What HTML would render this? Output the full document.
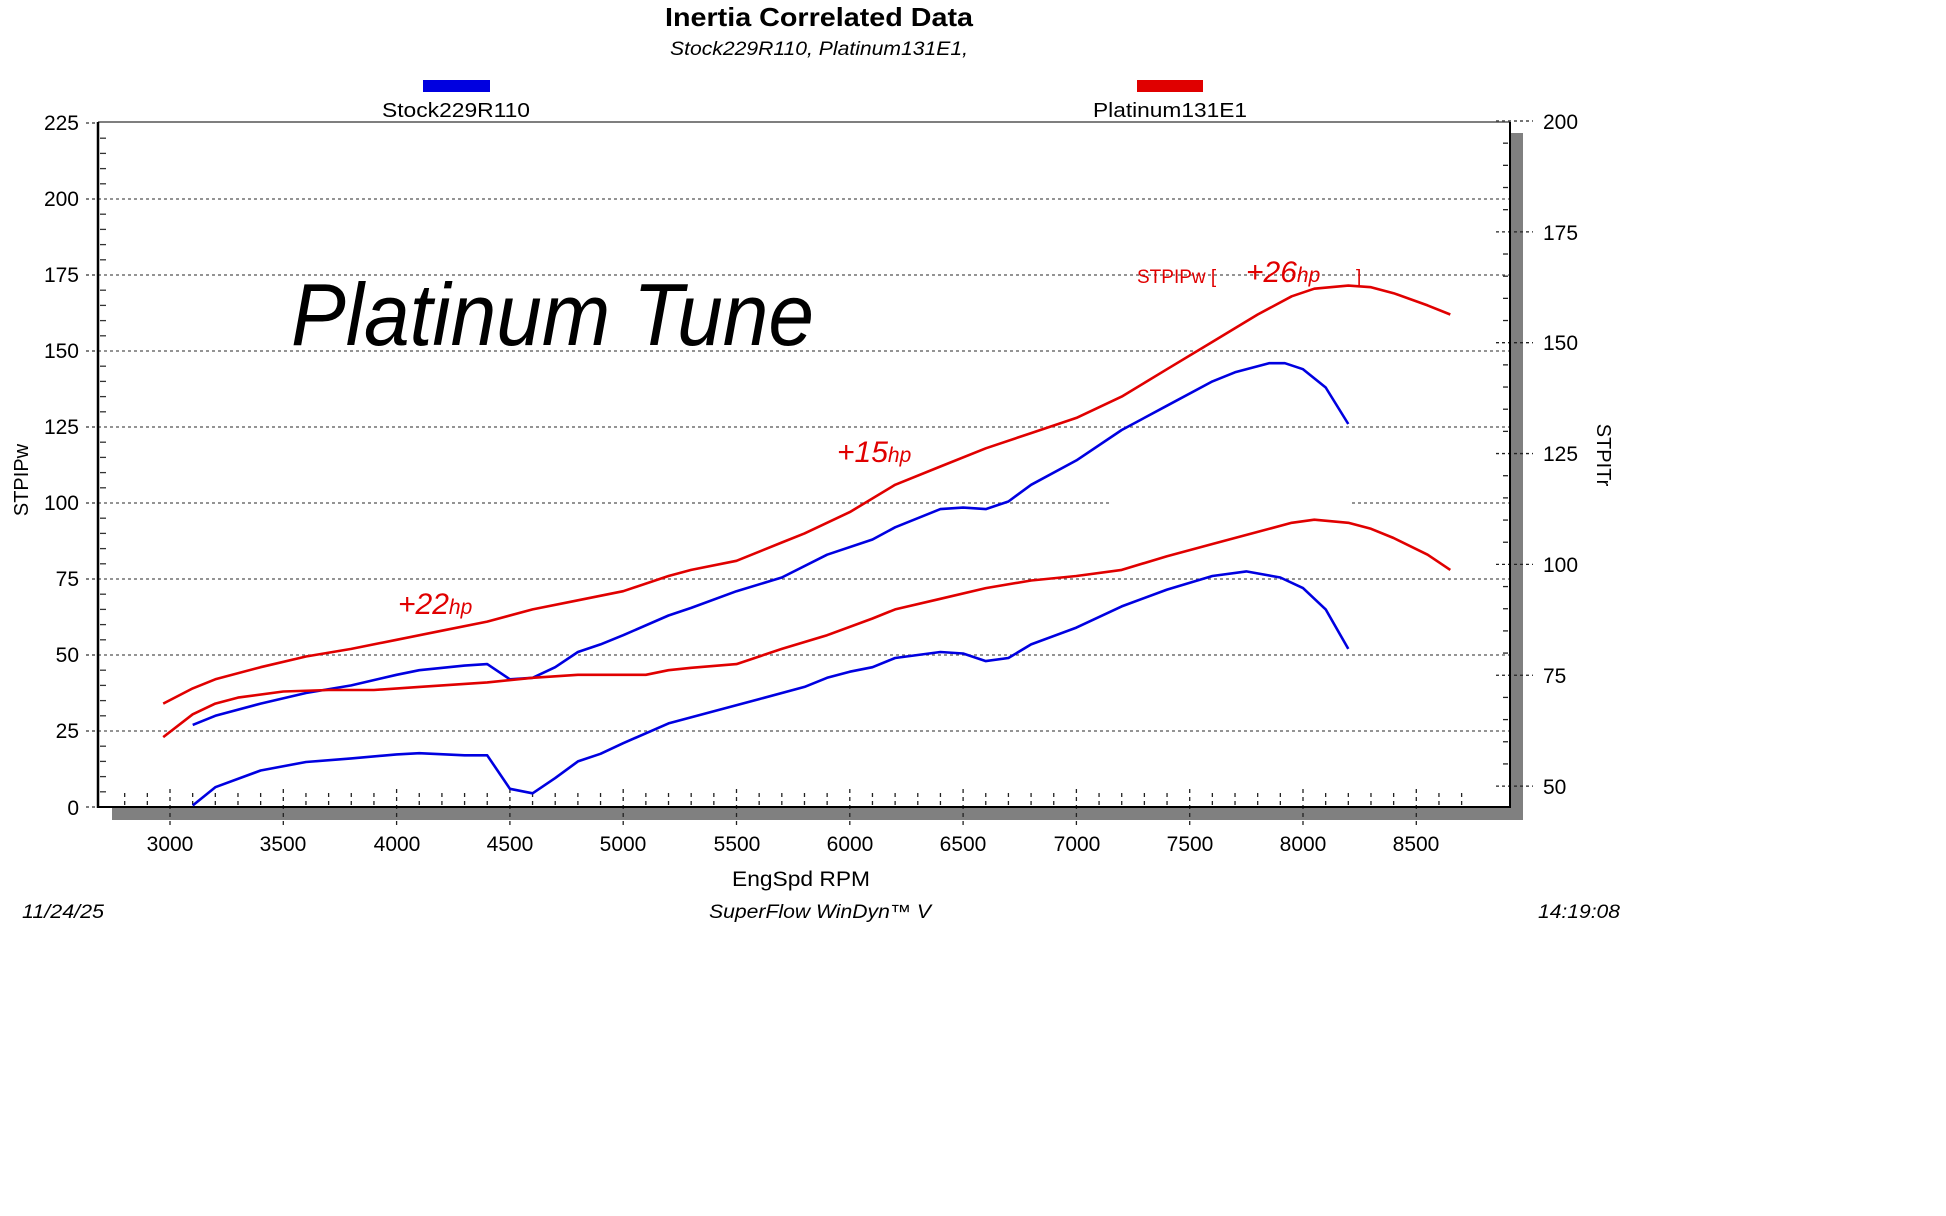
<!DOCTYPE html>
<html><head><meta charset="utf-8"><style>
html,body{margin:0;padding:0;background:#fff;}
svg{display:block;font-family:"Liberation Sans",sans-serif;}
</style></head><body>
<svg id="s" width="1946" height="1216" viewBox="0 0 1946 1216" xmlns="http://www.w3.org/2000/svg">
<rect width="1946" height="1216" fill="#fff"/>
<text x="819" y="26" text-anchor="middle" font-size="26" font-weight="bold" textLength="308" lengthAdjust="spacingAndGlyphs">Inertia Correlated Data</text>
<text x="819" y="55" text-anchor="middle" font-size="19" font-style="italic" textLength="298" lengthAdjust="spacingAndGlyphs">Stock229R110, Platinum131E1,</text>
<rect x="423" y="80" width="67" height="12" fill="#0000e0"/>
<rect x="1137" y="80" width="66" height="12" fill="#e00000"/>
<text x="456" y="117" text-anchor="middle" font-size="20" textLength="148" lengthAdjust="spacingAndGlyphs">Stock229R110</text>
<text x="1170" y="117" text-anchor="middle" font-size="20" textLength="154" lengthAdjust="spacingAndGlyphs">Platinum131E1</text>
<rect x="112" y="807" width="1411" height="13" fill="#808080"/>
<rect x="1510" y="133" width="13" height="687" fill="#808080"/>
<g id="grid"></g>
<line x1="98" y1="122" x2="1510" y2="122" stroke="#555" stroke-width="1.5"/>
<line x1="98" y1="122" x2="98" y2="808" stroke="#000" stroke-width="2.5"/>
<line x1="97" y1="807" x2="1511" y2="807" stroke="#000" stroke-width="2"/>
<line x1="1510" y1="122" x2="1510" y2="808" stroke="#000" stroke-width="2"/>
<g font-size="21" text-anchor="end">
<text x="79" y="130">225</text><text x="79" y="206">200</text><text x="79" y="282">175</text><text x="79" y="358">150</text><text x="79" y="434">125</text><text x="79" y="510">100</text><text x="79" y="586">75</text><text x="79" y="662">50</text><text x="79" y="738">25</text><text x="79" y="815">0</text>
</g>
<g font-size="21">
<text x="1543" y="129">200</text><text x="1543" y="240">175</text><text x="1543" y="350">150</text><text x="1543" y="461">125</text><text x="1543" y="572">100</text><text x="1543" y="683">75</text><text x="1543" y="794">50</text>
</g>
<g font-size="21" text-anchor="middle">
<text x="170" y="851">3000</text><text x="283" y="851">3500</text><text x="397" y="851">4000</text><text x="510" y="851">4500</text><text x="623" y="851">5000</text><text x="737" y="851">5500</text><text x="850" y="851">6000</text><text x="963" y="851">6500</text><text x="1077" y="851">7000</text><text x="1190" y="851">7500</text><text x="1303" y="851">8000</text><text x="1416" y="851">8500</text>
</g>
<text x="801" y="886" text-anchor="middle" font-size="21" textLength="138" lengthAdjust="spacingAndGlyphs">EngSpd RPM</text>
<text transform="translate(28,480) rotate(-90)" text-anchor="middle" font-size="20">STPIPw</text>
<text transform="translate(1597,455) rotate(90)" text-anchor="middle" font-size="20">STPITr</text>
<text x="22" y="918" font-size="19" font-style="italic" textLength="82" lengthAdjust="spacingAndGlyphs">11/24/25</text>
<text x="820" y="918" text-anchor="middle" font-size="19" font-style="italic" textLength="222" lengthAdjust="spacingAndGlyphs">SuperFlow WinDyn™ V</text>
<text x="1538" y="918" font-size="19" font-style="italic" textLength="82" lengthAdjust="spacingAndGlyphs">14:19:08</text>
<text x="291" y="345" font-size="88" font-style="italic" textLength="523" lengthAdjust="spacingAndGlyphs">Platinum Tune</text>
<g fill="#e00000" font-style="italic">
<text x="398" y="614" font-size="30">+22<tspan font-size="21">hp</tspan></text>
<text x="837" y="462" font-size="30">+15<tspan font-size="21">hp</tspan></text>
<text x="1137" y="283" font-size="19" font-style="normal">STPIPw [</text>
<text x="1246" y="282" font-size="30">+26<tspan font-size="21">hp</tspan></text>
<text x="1356" y="283" font-size="19" font-style="normal">]</text>
</g>
<rect x="1110" y="500" width="240" height="8" fill="#fff"/>
<g id="curves" fill="none" stroke-width="2.6" stroke-linejoin="round"></g>
</svg>
<script>
var NS="http://www.w3.org/2000/svg";
function X(r){return 170+(r-3000)*0.2266;}
function Y(v){return 807-v*3.04;}
var g=document.getElementById('grid'),h='';
for(var v=25;v<=200;v+=25){h+='<line x1="98" y1="'+Y(v)+'" x2="1510" y2="'+Y(v)+'" stroke="#555" stroke-width="1.3" stroke-dasharray="3,3"/>';}
for(var v=5;v<225;v+=5){if(v%25)h+='<line x1="100" y1="'+Y(v)+'" x2="106" y2="'+Y(v)+'" stroke="#333" stroke-width="1.3"/>';}
for(var v=0;v<=225;v+=25){h+='<line x1="86" y1="'+Y(v)+'" x2="98" y2="'+Y(v)+'" stroke="#333" stroke-width="1.3" stroke-dasharray="3,3"/>';}
for(var r=2800;r<=8700;r+=100){var x=X(r);if(x<100||x>1508)continue;var maj=(r%500==0);
h+='<line x1="'+x+'" y1="'+(maj?825:793)+'" x2="'+x+'" y2="'+(maj?788:806)+'" stroke="#222" stroke-width="1.3" stroke-dasharray="4,4"/>';}
for(var i=0;i<=30;i++){var y=121+i*22.17;if(i%5==0){h+='<line x1="1496" y1="'+y+'" x2="1533" y2="'+y+'" stroke="#222" stroke-width="1.3" stroke-dasharray="3,3"/>';}else h+='<line x1="1503" y1="'+y+'" x2="1508" y2="'+y+'" stroke="#222" stroke-width="1.3"/>';}
g.innerHTML=h;
var d={
r1:[[2970,34],[3100,39],[3200,42],[3400,46],[3600,49.5],[3800,52],[4000,55],[4200,58],[4400,61],[4600,65],[4800,68],[5000,71],[5200,76],[5300,78],[5500,81],[5700,87],[5800,90],[6000,97],[6200,106],[6400,112],[6600,118],[6800,123],[7000,128],[7200,135],[7400,144],[7600,153],[7800,162],[7950,168],[8050,170.5],[8200,171.5],[8300,171],[8400,169],[8550,165],[8650,162]],
b1:[[3100,27],[3200,30],[3400,34],[3600,37.5],[3800,40],[4000,43.5],[4100,45],[4300,46.5],[4400,47],[4500,42],[4600,42.5],[4700,46],[4800,51],[4900,53.5],[5000,56.5],[5200,63],[5300,65.5],[5500,71],[5700,75.5],[5900,83],[6100,88],[6200,92],[6400,98],[6500,98.5],[6600,98],[6700,100.5],[6800,106],[7000,114],[7200,124],[7400,132],[7600,140],[7700,143],[7850,146],[7920,146],[8000,144],[8100,138],[8200,126]],
r2:[[2970,23],[3100,30.5],[3200,34],[3300,36],[3500,38],[3700,38.5],[3900,38.5],[4100,39.5],[4200,40],[4400,41],[4600,42.5],[4800,43.5],[5000,43.5],[5100,43.5],[5200,45],[5300,45.8],[5500,47],[5700,52],[5900,56.5],[6100,62],[6200,65],[6400,68.5],[6600,72],[6800,74.5],[7000,76],[7200,78],[7400,82.5],[7600,86.5],[7800,90.5],[7950,93.5],[8050,94.5],[8200,93.5],[8300,91.5],[8400,88.5],[8550,83],[8650,78]],
b2:[[3100,0.5],[3200,6.5],[3400,12],[3600,14.8],[3800,16],[4000,17.3],[4100,17.7],[4300,17],[4400,17],[4500,6],[4600,4.5],[4700,9.5],[4800,15],[4900,17.5],[5000,21],[5200,27.5],[5400,31.5],[5600,35.5],[5800,39.5],[5900,42.5],[6000,44.5],[6100,46],[6200,49],[6400,51],[6500,50.5],[6600,48],[6700,49],[6800,53.5],[7000,59],[7200,66],[7400,71.5],[7600,76],[7750,77.5],[7900,75.5],[8000,72],[8100,65],[8200,52]]};
var c=document.getElementById('curves');
for(var k in d){var p=document.createElementNS(NS,'polyline');
p.setAttribute('points',d[k].map(function(a){return X(a[0]).toFixed(1)+','+Y(a[1]).toFixed(1);}).join(' '));
p.setAttribute('stroke',k[0]=='r'?'#e00000':'#0000e0');c.appendChild(p);}
</script>
</body></html>
